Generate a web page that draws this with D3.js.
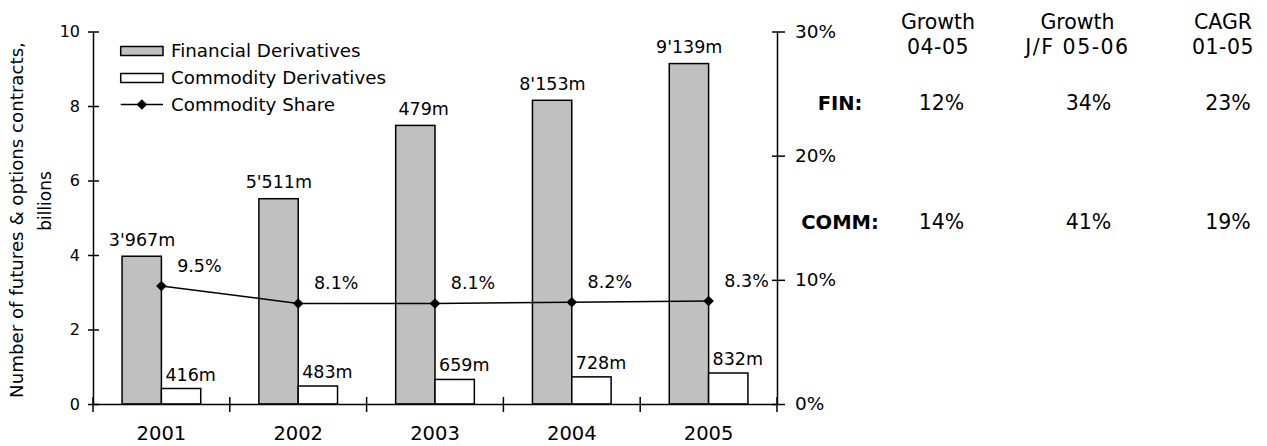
<!DOCTYPE html>
<html>
<head>
<meta charset="utf-8">
<script src="https://cdn.jsdelivr.net/npm/d3@7"></script>
<style>
  body { margin: 0; background: #fff; }
  text { font-family: "DejaVu Sans", Verdana, sans-serif; fill: #000; }
  .domain { stroke: #000; stroke-width: 1.5px; }
  .tick line { stroke: #000; stroke-width: 1.5px; }
</style>
</head>
<body>
<svg id="chart" width="1267" height="446"></svg>
<script>
// Exchange-traded futures & options volumes, 2001-2005
const years = ["2001", "2002", "2003", "2004", "2005"];
const financial = [3.967, 5.511, 7.479, 8.153, 9.139];        // billions of contracts
const commodity = [0.416, 0.483, 0.659, 0.728, 0.832];        // billions of contracts
const commodityShare = [9.5, 8.1, 8.1, 8.2, 8.3];             // percent
const financialLabels = ["3'967m", "5'511m", "479m", "8'153m", "9'139m"];
const commodityLabels = ["416m", "483m", "659m", "728m", "832m"];
const leftTicks = [0, 2, 4, 6, 8, 10];
const rightTicks = [0, 10, 20, 30];
const legendItems = ["Financial Derivatives", "Commodity Derivatives", "Commodity Share"];
const tableHeads = [["Growth", "04-05"], ["Growth", "J/F 05-06"], ["CAGR", "01-05"]];
const rowNames = ["FIN:", "COMM:"];
const finGrowth = ["12%", "34%", "23%"];
const commGrowth = ["14%", "41%", "19%"];

const svg = d3.select("#chart");

const plotLeft = 93, plotRight = 777, plotTop = 31.5, plotBottom = 404;

const x = d3.scaleBand().domain(years).range([plotLeft, plotRight]).paddingInner(0).paddingOuter(0);
const yL = d3.scaleLinear().domain([0, 10]).range([plotBottom, plotTop]);
const yR = d3.scaleLinear().domain([0, 30]).range([plotBottom, plotTop]);
const barW = x.bandwidth() * 0.2875;
const cx = d => x(d) + x.bandwidth() / 2;

// Bars
const g = svg.append("g");
g.selectAll("rect.fin").data(years).join("rect")
  .attr("class", "fin")
  .attr("x", d => cx(d) - barW)
  .attr("y", (d, i) => yL(financial[i]))
  .attr("width", barW)
  .attr("height", (d, i) => yL(0) - yL(financial[i]))
  .attr("fill", "#c0c0c0").attr("stroke", "#000").attr("stroke-width", 1.5);

g.selectAll("rect.comm").data(years).join("rect")
  .attr("class", "comm")
  .attr("x", d => cx(d))
  .attr("y", (d, i) => yL(commodity[i]))
  .attr("width", barW)
  .attr("height", (d, i) => yL(0) - yL(commodity[i]))
  .attr("fill", "#fff").attr("stroke", "#000").attr("stroke-width", 1.5);

// Bar value labels
g.selectAll("text.finlab").data(years).join("text")
  .attr("class", "finlab")
  .attr("x", d => cx(d) - barW / 2 + 33.5)
  .attr("y", (d, i) => yL(financial[i]) - 10.5)
  .attr("text-anchor", "end")
  .style("font-size", "17.5px")
  .text((d, i) => financialLabels[i]);

g.selectAll("text.commlab").data(years).join("text")
  .attr("class", "commlab")
  .attr("x", d => cx(d) + 4)
  .attr("y", (d, i) => yL(commodity[i]) - 8)
  .style("font-size", "17.5px")
  .text((d, i) => commodityLabels[i]);

// Axes
const axL = svg.append("g").attr("transform", `translate(${plotLeft},0)`)
  .call(d3.axisLeft(yL).tickValues(leftTicks).tickSizeInner(5).tickSizeOuter(0).tickPadding(8));
axL.selectAll(".tick line").attr("x1", 6);
axL.selectAll(".tick text").style("font-size", "16px");

const axR = svg.append("g").attr("transform", `translate(${plotRight},0)`)
  .call(d3.axisRight(yR).tickValues(rightTicks).tickFormat(d => d + "%")
    .tickSizeInner(8).tickSizeOuter(0).tickPadding(10));
axR.selectAll(".tick line").attr("x1", -5);
axR.selectAll(".tick text").style("font-size", "18.5px");

const axB = svg.append("g").attr("transform", `translate(0,${plotBottom})`)
  .call(d3.axisBottom(x).tickSize(0).tickPadding(22.5));
axB.selectAll(".tick text").style("font-size", "19.5px");

// Category separators crossing the baseline
const seps = d3.range(years.length + 1).map(i => plotLeft + i * x.step());
svg.append("g").selectAll("line").data(seps).join("line")
  .attr("x1", d => d).attr("x2", d => d)
  .attr("y1", plotBottom - 7).attr("y2", plotBottom + 8)
  .attr("stroke", "#000").attr("stroke-width", 1.5);

// Commodity share line
const line = d3.line().x(d => cx(d.year)).y(d => yR(d.v));
const sharePts = years.map((yr, i) => ({ year: yr, v: commodityShare[i] }));
svg.append("path").datum(sharePts)
  .attr("d", line).attr("fill", "none").attr("stroke", "#000").attr("stroke-width", 1.5);

const diamond = d3.symbol(d3.symbolSquare, 56);
svg.append("g").selectAll("path").data(sharePts).join("path")
  .attr("d", diamond)
  .attr("transform", d => `translate(${cx(d.year)},${yR(d.v)}) rotate(45)`)
  .attr("fill", "#000");

svg.append("g").selectAll("text").data(sharePts).join("text")
  .attr("x", d => cx(d.year) + 38)
  .attr("y", d => yR(d.v) - 14)
  .attr("text-anchor", "middle")
  .style("font-size", "17.5px")
  .text(d => d.v.toFixed(1) + "%");

// Legend
const lg = svg.append("g");
const lgX = 120.7, lgW = 42.3, lgRows = [51, 78, 104.5];
lg.append("rect").attr("x", lgX).attr("y", lgRows[0] - 4.5).attr("width", lgW).attr("height", 9)
  .attr("fill", "#c0c0c0").attr("stroke", "#000").attr("stroke-width", 1.5);
lg.append("rect").attr("x", lgX).attr("y", lgRows[1] - 4.5).attr("width", lgW).attr("height", 9)
  .attr("fill", "#fff").attr("stroke", "#000").attr("stroke-width", 1.5);
lg.append("line").attr("x1", lgX).attr("x2", lgX + lgW).attr("y1", lgRows[2]).attr("y2", lgRows[2])
  .attr("stroke", "#000").attr("stroke-width", 1.5);
lg.append("path").attr("d", diamond)
  .attr("transform", `translate(${lgX + lgW / 2},${lgRows[2]}) rotate(45)`).attr("fill", "#000");
lg.selectAll("text").data(legendItems).join("text")
  .attr("x", lgX + lgW + 8)
  .attr("y", (d, i) => lgRows[i] + 6)
  .style("font-size", "18.3px")
  .text(d => d);

// Y-axis title, two lines
svg.append("text")
  .attr("transform", "translate(23,220) rotate(-90)")
  .attr("text-anchor", "middle")
  .style("font-size", "18.2px")
  .text("Number of futures & options contracts,");
svg.append("text")
  .attr("transform", "translate(51,201) rotate(-90)")
  .attr("text-anchor", "middle")
  .style("font-size", "17px")
  .text("billions");

// Growth table
const colHead = [938, 1077.5, 1223];
const colVal = [941.5, 1088.5, 1228];
const tb = svg.append("g").style("font-size", "20.5px");
tableHeads.forEach((h, i) => {
  tb.append("text").attr("x", colHead[i]).attr("y", 28.5).attr("text-anchor", "middle").text(h[0]);
  tb.append("text").attr("x", colHead[i]).attr("y", 53.5).attr("text-anchor", "middle")
    .attr("letter-spacing", i === 1 ? 1.5 : 0.5).text(h[1]);
});
const rowY = [110, 228.5];
rowNames.forEach((r, j) => {
  tb.append("text").attr("x", 840).attr("y", rowY[j]).attr("text-anchor", "middle")
    .style("font-size", "19.5px").style("font-weight", "bold").text(r);
});
[finGrowth, commGrowth].forEach((vals, j) => {
  vals.forEach((v, i) => {
    tb.append("text").attr("x", colVal[i]).attr("y", rowY[j]).attr("text-anchor", "middle").text(v);
  });
});
</script>
</body>
</html>
